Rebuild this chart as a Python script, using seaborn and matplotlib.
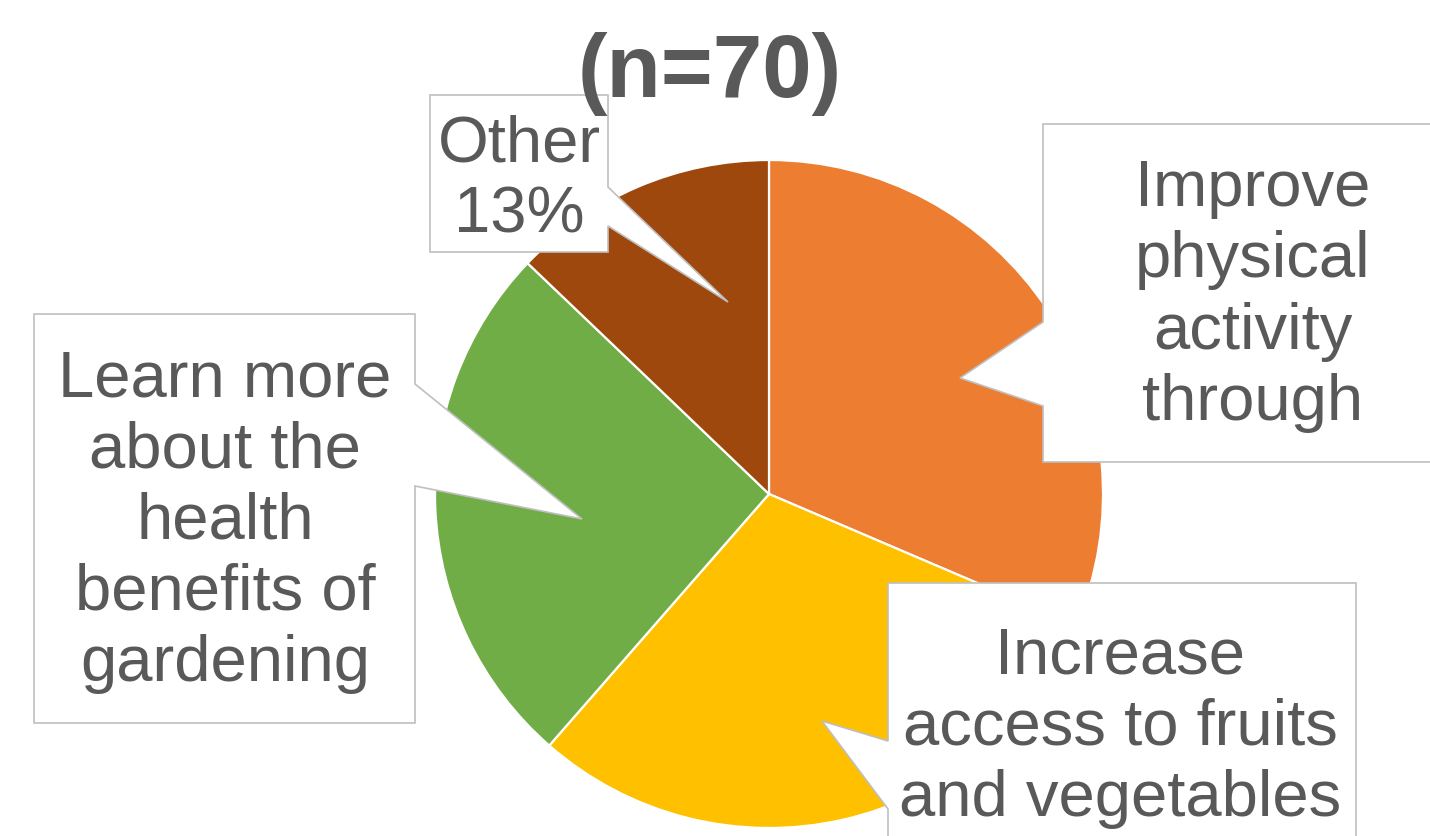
import matplotlib
matplotlib.use("Agg")
import matplotlib.pyplot as plt
from matplotlib.patches import Polygon
from matplotlib import font_manager
import seaborn as sns

# survey answers (n=70)
reasons = [
    "Improve\nphysical\nactivity\nthrough",
    "Increase\naccess to fruits\nand vegetables",
    "Learn more\nabout the\nhealth\nbenefits of\ngardening",
    "Other",
]
counts = [22, 21, 18, 9]
slice_colors = ["#ED7D31", "#FFC000", "#70AD47", "#9E480E"]
title = "(n=70)"

sns.set_theme(style="white")
plt.rcParams["font.family"] = ["Liberation Sans", "DejaVu Sans"]
TXT = "#595959"
EDGE = "#BFBFBF"

names = {f.name for f in font_manager.fontManager.ttflist}
title_font = "Liberation Sans Narrow" if "Liberation Sans Narrow" in names else "Liberation Sans"

fig = plt.figure(figsize=(14.3, 8.37), dpi=100)
ax = fig.add_axes([0, 0, 1, 1])

# y axis is flipped, so start at -90 and go "counterclock" to get clockwise from 12 o'clock
ax.pie(counts, colors=sns.color_palette(slice_colors), center=(769, 495), radius=334,
       startangle=-90, counterclock=True,
       wedgeprops=dict(edgecolor="white", linewidth=1.6), frame=True)
ax.set_xlim(0, 1430)
ax.set_ylim(837, 0)
ax.set_aspect("equal")
ax.axis("off")

total = sum(counts)
labels = list(reasons)
labels[3] = f"{reasons[3]}\n{round(100 * counts[3] / total)}%"

# callout shapes: box with a pointer towards the slice
callouts = [
    [(1043, 125), (1460, 125), (1460, 463), (1043, 463), (1043, 407), (960, 379), (1043, 323)],
    [(888, 584), (1356, 584), (1356, 860), (888, 860), (888, 810), (822, 722), (888, 742)],
    [(34, 315), (415, 315), (415, 385), (582, 520), (415, 487), (415, 724), (34, 724)],
    [(430, 96), (608, 96), (608, 188), (728, 303), (608, 227), (608, 253), (430, 253)],
]
anchors = [(1253, 159), (1120, 626), (225, 349), (519, 114)]

for verts, (tx, ty), lab in zip(callouts, anchors, labels):
    ax.add_patch(Polygon(verts, closed=True, facecolor="white", edgecolor=EDGE,
                         linewidth=1.2, zorder=3))
    ax.text(tx, ty, lab, ha="center", va="top", multialignment="center",
            fontsize=47, color=TXT, linespacing=1.24, zorder=4)

ax.text(710, 97, title, ha="center", va="baseline", fontsize=64, fontweight="bold",
        color=TXT, family=[title_font, "DejaVu Sans"], fontstretch="condensed")

fig.savefig("out.png", dpi=100, facecolor="white")
